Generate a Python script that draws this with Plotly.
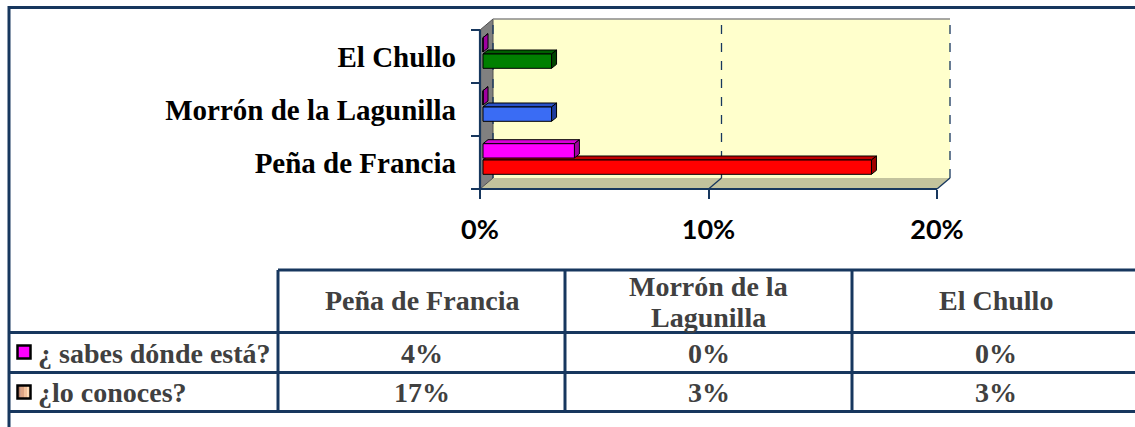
import textwrap
import plotly.graph_objects as go

# ---------------- data ----------------
categories = ["Peña de Francia", "Morrón de la Lagunilla", "El Chullo"]
series_names = ["¿ sabes dónde está?", "¿lo conoces?"]
sabes = [4, 0, 0]
conoces = [17, 3, 3]
x_tick_values = [0, 10, 20]
x_tick_labels = ["0%", "10%", "20%"]
value_labels_sabes = [f"{v}%" for v in sabes]
value_labels_conoces = [f"{v}%" for v in conoces]

# ---------------- styles ----------------
sabes_color = "#FF00FF"
sabes_top = "#D800D8"
sabes_side = "#A000A0"
conoces_colors = ["#FF0000", "#3A6CF4", "#008000"]
conoces_tops = ["#C00000", "#2A52C8", "#006000"]
conoces_sides = ["#A00000", "#1E3C9C", "#004400"]
NAVY = "#17375E"
W, H = 1135, 427

# pixel geometry of plot area
PX_PER_PCT = (937 - 480) / 20.0
PX_PER_CAT = (189 - 30) / 3.0
X0_PX, Y0_PX = 480, 189          # position of value 0 / bottom boundary
XR = [-4 / PX_PER_PCT, (956 - X0_PX) / PX_PER_PCT]
YR = [-0.5 - 4 / PX_PER_CAT, 2.5 + (30 - 14) / PX_PER_CAT]
XD = [(X0_PX - 4) / W, 956 / W]
YD = [1 - (Y0_PX + 4) / H, 1 - 14 / H]

D = 13 / PX_PER_PCT     # wall depth (x)
E = 11 / PX_PER_CAT     # wall depth (y)
BD = 5 / PX_PER_PCT     # bar depth (x)
BE = 4 / PX_PER_CAT     # bar depth (y)
BASE = 3 / PX_PER_PCT   # bar start shift in 3D
BW = 0.27
OFF_CON = -0.223
OFF_SAB = 0.085
XMAX = x_tick_values[-1]

def pxx(x):
    return x / W

def pxy(y):
    return 1 - y / H

fig = go.Figure()

fig.add_trace(go.Bar(
    y=categories, x=conoces, base=BASE, orientation="h", width=BW, offset=OFF_CON,
    marker=dict(color=conoces_colors, line=dict(color="black", width=1)),
    name=series_names[1], showlegend=False))
fig.add_trace(go.Bar(
    y=categories, x=sabes, base=BASE, orientation="h", width=BW, offset=OFF_SAB,
    marker=dict(color=sabes_color, line=dict(color="black", width=1)),
    name=series_names[0], showlegend=False))

shapes = []
# back wall
shapes.append(dict(type="rect", xref="x", yref="y", x0=D, x1=XMAX + D, y0=-0.5 + E, y1=2.5 + E,
                   fillcolor="#FFFFCC", line=dict(width=0), layer="below"))
# floor
shapes.append(dict(type="path", xref="x", yref="y",
                   path=f"M0,-0.5 L{XMAX},-0.5 L{XMAX + D},{-0.5 + E} L{D},{-0.5 + E} Z",
                   fillcolor="#C3C39D", line=dict(width=0), layer="below"))
# left wall
shapes.append(dict(type="path", xref="x", yref="y",
                   path=f"M0,-0.5 L0,2.5 L{D},{2.5 + E} L{D},{-0.5 + E} Z",
                   fillcolor="#808080", line=dict(color="#505050", width=1), layer="below"))
# top edge of back wall
shapes.append(dict(type="line", xref="x", yref="y", x0=D, x1=XMAX + D, y0=2.5 + E, y1=2.5 + E,
                   line=dict(color="#8A8A8A", width=1.5), layer="below"))
# gridlines on back wall and floor diagonals
for t in x_tick_values:
    shapes.append(dict(type="line", xref="x", yref="y", x0=t + D, x1=t + D, y0=-0.5 + E, y1=2.5 + E,
                       line=dict(color=NAVY, width=1.3, dash="dash"), layer="below"))
    if t > 0:
        shapes.append(dict(type="line", xref="x", yref="y", x0=t, x1=t + D, y0=-0.5, y1=-0.5 + E,
                           line=dict(color=NAVY, width=1.3), layer="below"))

# 3D faces of bars
def faces(i, v, off, top, side):
    yb = i + off
    yt = yb + BW
    x0 = BASE
    x1 = BASE + v
    out = []
    out.append(dict(type="path", xref="x", yref="y",
                    path=f"M{x0},{yt} L{x1},{yt} L{x1 + BD},{yt + BE} L{x0 + BD},{yt + BE} Z",
                    fillcolor=top, line=dict(color="black", width=1), layer="below"))
    out.append(dict(type="path", xref="x", yref="y",
                    path=f"M{x1},{yb} L{x1},{yt} L{x1 + BD},{yt + BE} L{x1 + BD},{yb + BE} Z",
                    fillcolor=side, line=dict(color="black", width=1), layer="below"))
    return out

for i, v in enumerate(conoces):
    shapes += faces(i, v, OFF_CON, conoces_tops[i], conoces_sides[i])
for i, v in enumerate(sabes):
    shapes += faces(i, v, OFF_SAB, sabes_top, sabes_side)

# axis lines
shapes.append(dict(type="line", xref="x", yref="y", x0=0, x1=0, y0=-0.5, y1=2.5,
                   line=dict(color=NAVY, width=2.2), layer="above"))
shapes.append(dict(type="line", xref="x", yref="y", x0=0, x1=XMAX, y0=-0.5, y1=-0.5,
                   line=dict(color=NAVY, width=2.2), layer="above"))

# ---------------- outer frame and data table ----------------
def hline(y, xa, xb):
    shapes.append(dict(type="line", xref="paper", yref="paper", x0=pxx(xa), x1=pxx(xb),
                       y0=pxy(y), y1=pxy(y), line=dict(color=NAVY, width=3)))

def vline(x, ya, yb):
    shapes.append(dict(type="line", xref="paper", yref="paper", x0=pxx(x), x1=pxx(x),
                       y0=pxy(ya), y1=pxy(yb), line=dict(color=NAVY, width=3)))

hline(7.5, 8, W + 5)
vline(9, 6, H + 5)
hline(270, 278, W + 5)
hline(332.5, 8, W + 5)
hline(372.5, 8, W + 5)
hline(411.5, 8, W + 5)
col_edges = [278, 565, 852, 1139]
for cx in col_edges[:3]:
    vline(cx, 270, 411.5)

# legend keys
def key(y_top, fills):
    n = len(fills)
    w = 13.0
    for k, c in enumerate(fills):
        shapes.append(dict(type="rect", xref="paper", yref="paper",
                           x0=pxx(17.5 + w * k / n), x1=pxx(17.5 + w * (k + 1) / n),
                           y0=pxy(y_top), y1=pxy(y_top + 13), fillcolor=c, line=dict(width=0)))
    shapes.append(dict(type="rect", xref="paper", yref="paper", x0=pxx(17.5), x1=pxx(30.5),
                       y0=pxy(y_top), y1=pxy(y_top + 13), line=dict(color="black", width=2.5)))

key(345.5, [sabes_color])
key(385.5, ["#B88068", "#DDA585", "#F3C29C", "#FFD9B0"])

annotations = []
TFONT = dict(family="Liberation Serif", size=28, color="#404040", weight="bold")

# header
for j, cat in enumerate(categories):
    cx = (col_edges[j] + col_edges[j + 1]) / 2
    lines = textwrap.wrap(cat, 15)
    if len(lines) == 1:
        ys = [300]
    else:
        ys = [286, 317]
    for ln, yy in zip(lines, ys):
        annotations.append(dict(x=pxx(cx), y=pxy(yy), xref="paper", yref="paper", text=ln,
                                showarrow=False, xanchor="center", yanchor="middle", font=TFONT))
# values
for row_y, labels in [(353, value_labels_sabes), (392, value_labels_conoces)]:
    for j, lab in enumerate(labels):
        cx = (col_edges[j] + col_edges[j + 1]) / 2
        annotations.append(dict(x=pxx(cx), y=pxy(row_y), xref="paper", yref="paper", text=lab,
                                showarrow=False, xanchor="center", yanchor="middle", font=TFONT))
# row labels
for row_y, name in [(353, series_names[0]), (392, series_names[1])]:
    annotations.append(dict(x=pxx(36), y=pxy(row_y), xref="paper", yref="paper", text=name,
                            showarrow=False, xanchor="left", yanchor="middle", font=TFONT))

fig.update_layout(
    width=W, height=H,
    margin=dict(l=0, r=0, t=0, b=0),
    paper_bgcolor="white", plot_bgcolor="rgba(0,0,0,0)",
    barmode="overlay",
    shapes=shapes, annotations=annotations,
    xaxis=dict(domain=XD, range=XR, anchor="free", position=pxy(Y0_PX),
               tickvals=x_tick_values, ticktext=x_tick_labels,
               ticks="outside", ticklen=9, tickwidth=2.2, tickcolor=NAVY,
               showgrid=False, zeroline=False, showline=False, automargin=False,
               ticklabelstandoff=8,
               tickfont=dict(family="Lato", size=27, color="black", weight="bold")),
    yaxis=dict(domain=YD, range=YR, type="category", categoryorder="array",
               categoryarray=categories, anchor="free", position=pxx(X0_PX),
               tickson="boundaries", ticks="outside", ticklen=9, tickwidth=2.2, tickcolor=NAVY,
               showgrid=False, zeroline=False, showline=False, automargin=False,
               ticklabelstandoff=24,
               tickfont=dict(family="Liberation Serif", size=29, color="black", weight="bold")),
    showlegend=False,
)

fig.write_html("out.html", config={"displayModeBar": False},
               post_script="document.body.style.margin='0';document.body.style.padding='0';")
